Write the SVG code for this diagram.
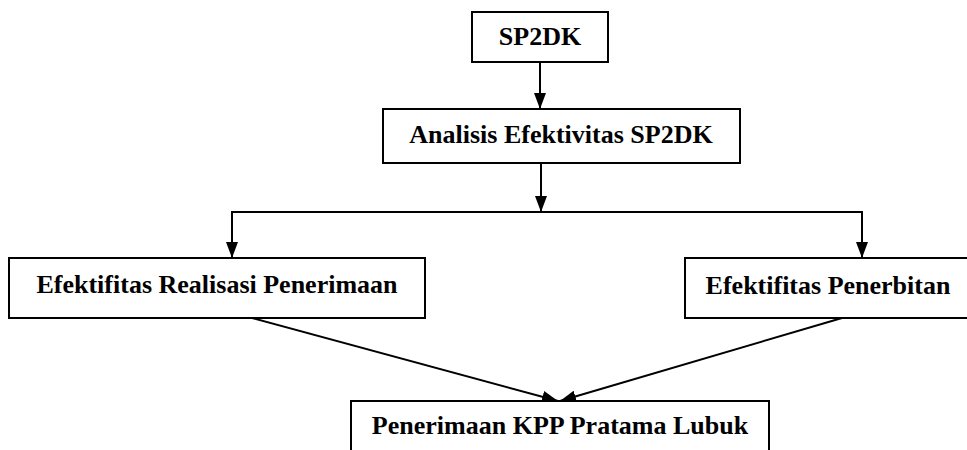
<svg xmlns="http://www.w3.org/2000/svg" width="967" height="450" viewBox="0 0 967 450">
<defs>
<style>
.box{fill:#fff;stroke:#000;stroke-width:2}
.lbl{font-family:'Liberation Serif','Times New Roman',Times,serif;font-weight:700;font-size:26px;fill:#000;text-anchor:middle}
.ln{fill:none;stroke:#000;stroke-width:2}
</style>
<marker id="ah" viewBox="0 0 16 12" refX="16" refY="6" markerWidth="16" markerHeight="12" markerUnits="userSpaceOnUse" orient="auto">
<path d="M0,0 L16,6 L0,12 Z" fill="#000"/>
</marker>
</defs>
<rect width="967" height="450" fill="#fff"/>
<g id="connectors">
<line class="ln" x1="540" y1="62" x2="540" y2="109" marker-end="url(#ah)"/>
<line class="ln" x1="541" y1="163" x2="541" y2="212" marker-end="url(#ah)"/>
<polyline class="ln" points="232,258 232,212 862,212 862,258"/>
<line class="ln" x1="232" y1="240" x2="232" y2="258" marker-end="url(#ah)"/>
<line class="ln" x1="862" y1="240" x2="862" y2="258" marker-end="url(#ah)"/>
<line class="ln" x1="252" y1="318" x2="558" y2="401" marker-end="url(#ah)"/>
<line class="ln" x1="842" y1="318" x2="560" y2="401" marker-end="url(#ah)"/>
</g>
<g id="sp2dk">
<rect class="box" x="472" y="12" width="136" height="50"/>
<text class="lbl" font-family="Liberation Serif, serif" x="540" y="45">SP2DK</text>
</g>
<g id="analisis">
<rect class="box" x="383" y="109" width="357" height="54"/>
<text class="lbl" font-family="Liberation Serif, serif" x="561" y="143">Analisis Efektivitas SP2DK</text>
</g>
<g id="realisasi">
<rect class="box" x="9" y="258" width="416" height="60"/>
<text class="lbl" font-family="Liberation Serif, serif" x="217" y="293">Efektifitas Realisasi Penerimaan</text>
</g>
<g id="penerbitan">
<rect class="box" x="685" y="258" width="300" height="60"/>
<text class="lbl" font-family="Liberation Serif, serif" x="828" y="294">Efektifitas Penerbitan</text>
</g>
<g id="penerimaan">
<rect class="box" x="351" y="401" width="418" height="60"/>
<text class="lbl" font-family="Liberation Serif, serif" x="560" y="434">Penerimaan KPP Pratama Lubuk</text>
</g>
</svg>
